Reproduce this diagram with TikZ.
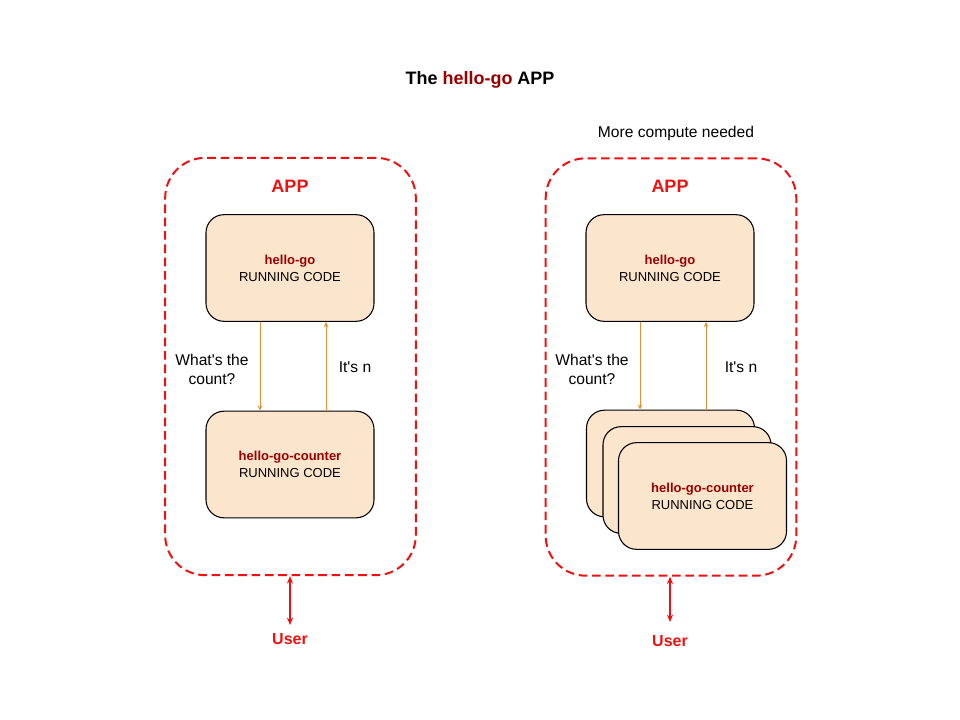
\documentclass[tikz,border=0pt]{standalone}
\usepackage{fontspec}
\setmainfont{Liberation Sans}
\usetikzlibrary{arrows.meta,calc}
\definecolor{appred}{HTML}{EE1111}
\definecolor{darkred}{HTML}{990000}
\definecolor{boxfill}{HTML}{FCE5CD}
\definecolor{arrowor}{HTML}{E69138}
\tikzset{
  container/.style={draw=appred, line width=1.5pt, dash pattern=on 6.5pt off 3.5pt,
    rounded corners=30pt, minimum width=188pt, minimum height=313pt, inner sep=0pt},
  codebox/.style={draw=black, line width=0.8pt, fill=boxfill, rounded corners=13.5pt,
    minimum width=126pt, minimum height=80pt, align=center, inner sep=0pt,
    font=\fontsize{9.75}{12.6}\selectfont},
  apptitle/.style={text=appred, font=\fontsize{13.5}{16}\selectfont\bfseries},
  msglabel/.style={align=center, font=\fontsize{11.7}{14.3}\selectfont},
  userlabel/.style={text=appred, font=\fontsize{12}{14}\selectfont\bfseries},
  msgarrow/.style={draw=arrowor, line width=0.75pt, -{Stealth[length=4pt,width=3.5pt]}},
  userarrow/.style={draw=appred, line width=1pt, {Stealth[length=5.5pt,width=4.5pt]}-{Stealth[length=5.5pt,width=4.5pt]}},
}
\begin{document}
\begin{tikzpicture}[x=0.75pt,y=-0.75pt]
\useasboundingbox (0,0) rectangle (960,720);
% title
\node[font=\fontsize{13.5}{16}\selectfont\bfseries] (title) at (480,80) {The \textcolor{darkred}{hello-go} APP};
\node[font=\fontsize{11.7}{14}\selectfont] (more) at (676,133) {More compute needed};
% containers
\node[container] (contL) at (290.5,366.5) {};
\node[container] (contR) at (671,367) {};
\node[apptitle] (appL) at (290,186) {APP};
\node[apptitle] (appR) at (670,186) {APP};
% left boxes
\node[codebox] (topL) at (290,268) {\textcolor{darkred}{\bfseries hello-go}\\RUNNING CODE};
\node[codebox] (botL) at (290,464.5) {\textcolor{darkred}{\bfseries hello-go-counter}\\RUNNING CODE};
% right boxes
\node[codebox] (topR) at (670,268) {\textcolor{darkred}{\bfseries hello-go}\\RUNNING CODE};
\node[codebox] (botR1) at (670.5,463.5) {};
\node[codebox] (botR2) at (687,480) {};
\node[codebox] (botR3) at (702.5,496) {\textcolor{darkred}{\bfseries hello-go-counter}\\RUNNING CODE};
% arrows left
\draw[msgarrow] (260,0 |- topL.south) -- (260,0 |- botL.north);
\draw[msgarrow] (326,0 |- botL.north) -- (326,0 |- topL.south);
\node[msglabel] (qL) at (212,369) {What\textquotesingle s the\\count?};
\node[msglabel] (aL) at (355,367) {It\textquotesingle s n};
% arrows right
\draw[msgarrow] (640,0 |- topR.south) -- (640,0 |- botR1.north);
\draw[msgarrow] (706,0 |- botR1.north) -- (706,0 |- topR.south);
\node[msglabel] (qR) at (592,369) {What\textquotesingle s the\\count?};
\node[msglabel] (aR) at (741,367) {It\textquotesingle s n};
% users
\node[userlabel] (userL) at (290,639) {User};
\node[userlabel] (userR) at (670,641) {User};
\coordinate (uLtop) at (290,625);
\coordinate (uRtop) at (670,622);
\draw[userarrow] (290,0 |- contL.south) -- (uLtop);
\draw[userarrow] (670,0 |- contR.south) -- (uRtop);
\end{tikzpicture}
\end{document}
